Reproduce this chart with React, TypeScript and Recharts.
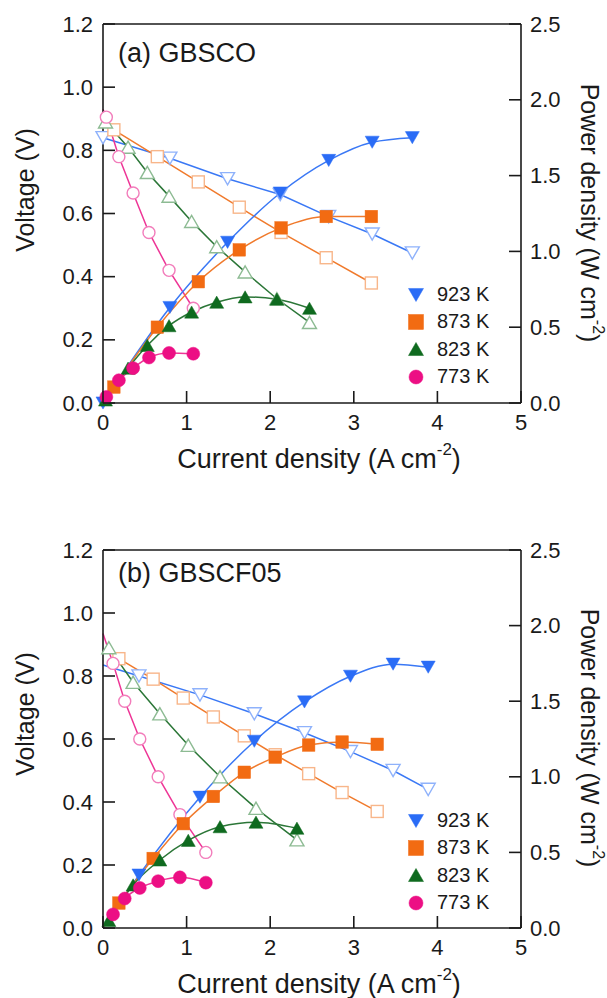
import React from 'react';
import { LineChart, Line, XAxis, YAxis, Legend, ReferenceLine, Label } from 'recharts';

const FONT = '"Liberation Sans", Arial, Helvetica, sans-serif';
const INK = '#1a1a1a';

const temperatures = ['923 K', '873 K', '823 K', '773 K'];
const voltageTicks = [0, 0.2, 0.4, 0.6, 0.8, 1.0, 1.2];
const powerTicks = [0, 0.5, 1.0, 1.5, 2.0, 2.5];
const currentTicks = [0, 1, 2, 3, 4, 5];

// (a) GBSCO
const aCurrent923 = [0, 0.8, 1.49, 2.12, 2.7, 3.22, 3.7];
const aVoltage923 = [0.84, 0.775, 0.71, 0.66, 0.59, 0.535, 0.475];
const aPower923 = [0, 0.63, 1.06, 1.385, 1.6, 1.72, 1.75];

const aCurrent873 = [0.13, 0.65, 1.14, 1.63, 2.13, 2.67, 3.21];
const aVoltage873 = [0.865, 0.78, 0.7, 0.62, 0.54, 0.46, 0.38];
const aPower873 = [0.105, 0.5, 0.8, 1.01, 1.155, 1.23, 1.23];

const aCurrent823 = [0.03, 0.3, 0.53, 0.79, 1.06, 1.36, 1.7, 2.08, 2.47];
const aVoltage823 = [0.89, 0.81, 0.73, 0.655, 0.575, 0.495, 0.415, 0.33, 0.255];
const aPower823 = [0.02, 0.23, 0.38, 0.51, 0.6, 0.665, 0.7, 0.685, 0.625];

const aCurrent773 = [0, 0.04, 0.19, 0.36, 0.55, 0.79, 1.08];
const aVoltage773 = [0.93, 0.905, 0.78, 0.665, 0.54, 0.42, 0.3];
const aPower773 = [0, 0.04, 0.15, 0.23, 0.3, 0.33, 0.325];

// (b) GBSCF05
const bCurrent923 = [0, 0.43, 1.16, 1.81, 2.41, 2.96, 3.47, 3.89];
const bVoltage923 = [0.835, 0.8, 0.74, 0.68, 0.62, 0.56, 0.5, 0.44];
const bPower923 = [0, 0.35, 0.865, 1.235, 1.495, 1.665, 1.745, 1.725];

const bCurrent873 = [0.19, 0.6, 0.96, 1.32, 1.69, 2.06, 2.46, 2.86, 3.28];
const bVoltage873 = [0.855, 0.79, 0.73, 0.67, 0.61, 0.55, 0.49, 0.43, 0.37];
const bPower873 = [0.165, 0.46, 0.69, 0.87, 1.03, 1.13, 1.21, 1.23, 1.215];

const bCurrent823 = [0.07, 0.36, 0.68, 1.02, 1.4, 1.83, 2.32];
const bVoltage823 = [0.89, 0.78, 0.68, 0.58, 0.48, 0.38, 0.28];
const bPower823 = [0.05, 0.285, 0.45, 0.58, 0.67, 0.7, 0.66];

const bCurrent773 = [0, 0.12, 0.26, 0.44, 0.66, 0.92, 1.23];
const bVoltage773 = [0.935, 0.84, 0.72, 0.6, 0.48, 0.36, 0.24];
const bPower773 = [0, 0.09, 0.195, 0.265, 0.31, 0.335, 0.3];

// whether the zero-current point carries a marker (otherwise line only)
const aOriginMarker = [true, true, true, false];
const bOriginMarker = [false, true, true, false];

type Shape = 'down' | 'square' | 'up' | 'circle';
const styles: { shape: Shape; fill: string; light: string; line: string }[] = [
  { shape: 'down', fill: '#2a6cf6', light: '#8fb2fb', line: '#3a78f5' },
  { shape: 'square', fill: '#f26b12', light: '#f8b68a', line: '#f07a2c' },
  { shape: 'up', fill: '#0f6a1f', light: '#8dbb93', line: '#2b7637' },
  { shape: 'circle', fill: '#ec0f84', light: '#f27dbb', line: '#ee3596' },
];

type Row = { x: number; v: number; p: number };
const rows = (c: number[], v: number[], p: number[]): Row[] =>
  c.map((x, i) => ({ x, v: v[i], p: p[i] }));

const panelA = [
  rows(aCurrent923, aVoltage923, aPower923),
  rows(aCurrent873, aVoltage873, aPower873),
  rows(aCurrent823, aVoltage823, aPower823),
  rows(aCurrent773, aVoltage773, aPower773),
];
const panelB = [
  rows(bCurrent923, bVoltage923, bPower923),
  rows(bCurrent873, bVoltage873, bPower873),
  rows(bCurrent823, bVoltage823, bPower823),
  rows(bCurrent773, bVoltage773, bPower773),
];

function Marker({ cx, cy, shape, size, fill, stroke, sw }: any) {
  const h = size / 2;
  const common = { fill, stroke, strokeWidth: sw };
  if (shape === 'square') return <rect x={cx - h} y={cy - h} width={size} height={size} {...common} />;
  if (shape === 'circle') return <circle cx={cx} cy={cy} r={h} {...common} />;
  const th = size * 0.87;
  if (shape === 'down')
    return <polygon points={`${cx - h},${cy - th / 2} ${cx + h},${cy - th / 2} ${cx},${cy + th / 2}`} {...common} />;
  return <polygon points={`${cx},${cy - th / 2} ${cx - h},${cy + th / 2} ${cx + h},${cy + th / 2}`} {...common} />;
}

const openDot = (i: number, originMarker: boolean) => (p: any) => {
  const s = styles[i];
  if (!originMarker && p.payload && p.payload.x === 0) return <g key={`o${i}-${p.index}`} />;
  const size = s.shape === 'circle' ? 12 : s.shape === 'square' ? 12 : 14;
  return (
    <Marker key={`o${i}-${p.index}`} cx={p.cx} cy={p.cy} shape={s.shape} size={size} fill="#ffffff" stroke={s.light} sw={1.4} />
  );
};
const filledDot = (i: number, originMarker: boolean) => (p: any) => {
  const s = styles[i];
  if (!originMarker && p.payload && p.payload.x === 0) return <g key={`f${i}-${p.index}`} />;
  const size = s.shape === 'circle' ? 13 : s.shape === 'square' ? 12.5 : 14;
  return <Marker key={`f${i}-${p.index}`} cx={p.cx} cy={p.cy} shape={s.shape} size={size} fill={s.fill} stroke={s.fill} sw={0.5} />;
};

const LeftTick = (p: any) => (
  <g>
    <line x1={p.x} x2={p.x + 12} y1={p.y} y2={p.y} stroke={INK} strokeWidth={1.6} />
    <text x={p.x - 10} y={p.y} textAnchor="end" dominantBaseline="central" fontSize={22} fill={INK} fontFamily={FONT}>
      {Number(p.payload.value).toFixed(1)}
    </text>
  </g>
);
const RightTick = (p: any) => (
  <g>
    <line x1={p.x - 12} x2={p.x} y1={p.y} y2={p.y} stroke={INK} strokeWidth={1.6} />
    <text x={p.x + 9} y={p.y} textAnchor="start" dominantBaseline="central" fontSize={22} fill={INK} fontFamily={FONT}>
      {Number(p.payload.value).toFixed(1)}
    </text>
  </g>
);
const BottomTick = (p: any) => (
  <g>
    <line x1={p.x} x2={p.x} y1={p.y} y2={p.y - 12} stroke={INK} strokeWidth={1.6} />
    <text x={p.x} y={p.y + 19} textAnchor="middle" dominantBaseline="central" fontSize={22} fill={INK} fontFamily={FONT}>
      {String(p.payload.value)}
    </text>
  </g>
);

const LegendBox = () => (
  <div style={{ fontFamily: FONT, fontSize: 20, color: INK }}>
    {temperatures.map((t, i) => (
      <div key={t} style={{ display: 'flex', alignItems: 'center', height: 27.3 }}>
        <svg width={22} height={22} style={{ display: 'block' }}>
          <Marker cx={11} cy={11} shape={styles[i].shape} size={styles[i].shape === 'circle' ? 14 : 15} fill={styles[i].fill} stroke={styles[i].fill} sw={0.5} />
        </svg>
        <span style={{ marginLeft: 10, lineHeight: '27px' }}>{t}</span>
      </div>
    ))}
  </div>
);

type PanelProps = {
  data: Row[][];
  originMarker: boolean[];
  title: string;
  titleY: number;
  top: number;
  bottom: number;
  legendTop: number;
  vLabelY: number;
  xLabelY: number;
  pLabelY: number;
};

function Panel({ data, originMarker, title, titleY, top, bottom, legendTop, vLabelY, xLabelY, pLabelY }: PanelProps) {
  const texts = () => (
    <g fontFamily={FONT} fill={INK}>
      <text x={118} y={titleY} fontSize={27}>{title}</text>
      <text x={25} y={vLabelY} fontSize={25} textAnchor="middle" dominantBaseline="central" transform={`rotate(-90, 25, ${vLabelY})`}>
        Voltage (V)
      </text>
      <text x={319} y={xLabelY} fontSize={27} textAnchor="middle" dominantBaseline="central">
        Current density (A cm<tspan dy={-10} fontSize={17}>-2</tspan>
        <tspan dy={10}>)</tspan>
      </text>
      <text x={590} y={pLabelY} fontSize={25} textAnchor="middle" dominantBaseline="central" transform={`rotate(90, 590, ${pLabelY})`}>
        Power density (W cm<tspan dy={-9} fontSize={16}>-2</tspan>
        <tspan dy={9}>)</tspan>
      </text>
    </g>
  );
  return (
    <LineChart width={607} height={499} margin={{ top, right: 26, bottom, left: 43 }}>
      <XAxis
        type="number"
        dataKey="x"
        domain={[0, 5]}
        ticks={currentTicks}
        interval={0}
        height={40}
        tickSize={0}
        tickMargin={0}
        tickLine={false}
        axisLine={{ stroke: INK, strokeWidth: 1.6 }}
        tick={BottomTick}
      >
        <Label content={texts} />
      </XAxis>
      <YAxis
        yAxisId="left"
        type="number"
        domain={[0, 1.2]}
        ticks={voltageTicks}
        interval={0}
        width={60}
        tickSize={0}
        tickMargin={0}
        tickLine={false}
        axisLine={{ stroke: INK, strokeWidth: 1.6 }}
        tick={LeftTick}
      />
      <YAxis
        yAxisId="right"
        orientation="right"
        type="number"
        domain={[0, 2.5]}
        ticks={powerTicks}
        interval={0}
        width={60}
        tickSize={0}
        tickMargin={0}
        tickLine={false}
        axisLine={{ stroke: INK, strokeWidth: 1.6 }}
        tick={RightTick}
      />
      <ReferenceLine yAxisId="left" y={1.2} stroke={INK} strokeWidth={1.6} />
      {data.map((d, i) => (
        <Line
          key={`v${i}`}
          yAxisId="left"
          data={d}
          dataKey="v"
          type="linear"
          stroke={styles[i].line}
          strokeWidth={1.5}
          dot={openDot(i, originMarker[i])}
          activeDot={false}
          isAnimationActive={false}
          legendType="none"
        />
      ))}
      {data.map((d, i) => (
        <Line
          key={`p${i}`}
          yAxisId="right"
          data={d}
          dataKey="p"
          type="monotone"
          stroke={styles[i].line}
          strokeWidth={1.5}
          dot={filledDot(i, originMarker[i])}
          activeDot={false}
          isAnimationActive={false}
          legendType="none"
        />
      ))}
      <Legend
        content={LegendBox}
        layout="vertical"
        align="center"
        verticalAlign="middle"
        wrapperStyle={{ left: 405, top: legendTop, width: 130, height: 112 }}
      />
    </LineChart>
  );
}

export default function App() {
  return (
    <div style={{ position: 'absolute', left: 0, top: 0, width: 607, height: 998, background: '#ffffff' }}>
      <Panel data={panelA} originMarker={aOriginMarker} title="(a) GBSCO" titleY={62} top={24} bottom={56} legendTop={281} vLabelY={190} xLabelY={459} pLabelY={213} />
      <Panel data={panelB} originMarker={bOriginMarker} title="(b) GBSCF05" titleY={83} top={51} bottom={30} legendTop={308} vLabelY={215} xLabelY={485} pLabelY={239} />
    </div>
  );
}
